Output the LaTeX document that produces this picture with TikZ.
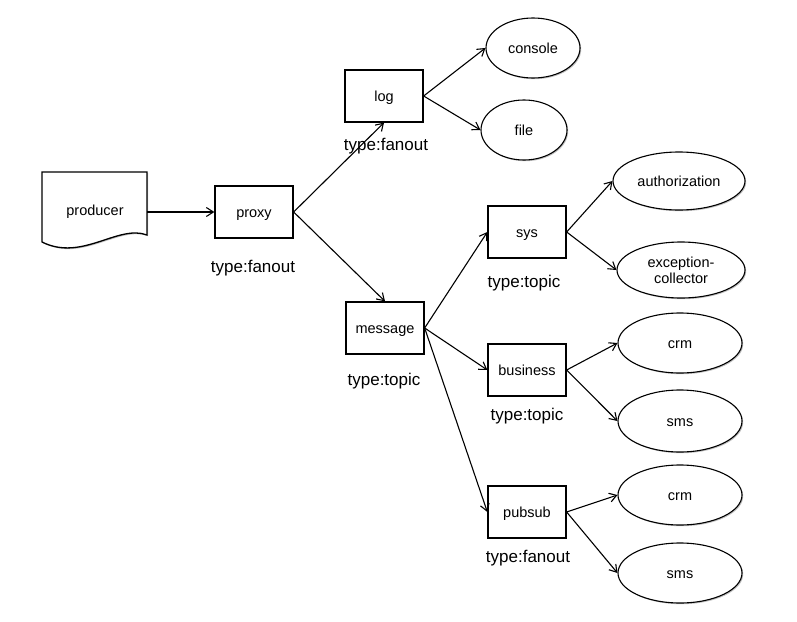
\documentclass[tikz,border=0pt]{standalone}
\usepackage{fontspec}
\setmainfont{Liberation Sans}
\usetikzlibrary{arrows.meta,shapes.geometric,shadows}
\begin{document}
\begin{tikzpicture}[x=1pt,y=-1pt,
  shad/.style={drop shadow={shadow xshift=1.2pt,shadow yshift=-1.2pt,opacity=0.25,fill=black}},
  qbox/.style={draw,line width=1.3pt,fill=white,shad,minimum width=78pt,minimum height=52pt,inner sep=0pt,text height=10pt,text depth=0pt,font=\fontsize{14.5}{16}\selectfont},
  qell/.style={draw,ellipse,line width=1.1pt,fill=white,shad,inner sep=0pt,font=\fontsize{14.5}{16}\selectfont,align=center},
  one/.style={text height=10pt,text depth=0pt},
  tlabel/.style={font=\fontsize{17}{19}\selectfont},
  conn/.style={line width=1.1pt,-{Straight Barb[length=7pt,width=9pt,line width=1.1pt]}}
]
\useasboundingbox (0,0) rectangle (797,621);
% producer document shape
\path[draw,line width=1.3pt,fill=white,shad] (42,172) -- (147,172) -- (147,235)
  .. controls (118,224) and (82,262) .. (42,242) -- cycle;
\node (producer) at (95,210) [one,font=\fontsize{14.5}{16}\selectfont] {producer};
\coordinate (prodE) at (147,212);

\node[qbox] (proxy) at (254,212) {proxy};
\node[tlabel] (proxyT) at (253,268) {type:fanout};

\node[qbox] (log) at (384,96) {log};
\node[tlabel] (logT) at (386,146) {type:fanout};

\node[qbox] (message) at (385,328) {message};
\node[tlabel] (messageT) at (384,381) {type:topic};

\node[qbox] (sys) at (527,232) {sys};
\node[tlabel] (sysT) at (524,283) {type:topic};

\node[qbox] (business) at (527,370) {business};
\node[tlabel] (businessT) at (527,416) {type:topic};

\node[qbox] (pubsub) at (527,512) {pubsub};
\node[tlabel] (pubsubT) at (528,558) {type:fanout};

\node[qell,one,minimum width=94pt,minimum height=60pt] (console) at (533,48) {console};
\node[qell,one,minimum width=86pt,minimum height=60pt] (file) at (524,130) {file};
\node[qell,one,minimum width=132pt,minimum height=58pt] (auth) at (679,181) {authorization};
\node[qell,minimum width=128pt,minimum height=56pt] (exc) at (681,270) {exception-\\collector};
\node[qell,one,minimum width=124pt,minimum height=60pt] (crm1) at (680,343) {crm};
\node[qell,one,minimum width=124pt,minimum height=62pt] (sms1) at (680,421) {sms};
\node[qell,one,minimum width=124pt,minimum height=60pt] (crm2) at (680,495) {crm};
\node[qell,one,minimum width=124pt,minimum height=60pt] (sms2) at (680,573) {sms};

\draw[conn] (prodE) -- (proxy.west);
\draw[conn] (proxy.east) -- (log.south);
\draw[conn] (proxy.east) -- (message.north);
\draw[conn] (log.east) -- (console.west);
\draw[conn] (log.east) -- (file.west);
\draw[conn] (message.east) -- (sys.west);
\draw[conn] (message.east) -- (business.west);
\draw[conn] (message.east) -- (pubsub.west);
\draw[conn] (sys.east) -- (auth.west);
\draw[conn] (sys.east) -- (exc.west);
\draw[conn] (business.east) -- (crm1.west);
\draw[conn] (business.east) -- (sms1.west);
\draw[conn] (pubsub.east) -- (crm2.west);
\draw[conn] (pubsub.east) -- (sms2.west);
\end{tikzpicture}
\end{document}
